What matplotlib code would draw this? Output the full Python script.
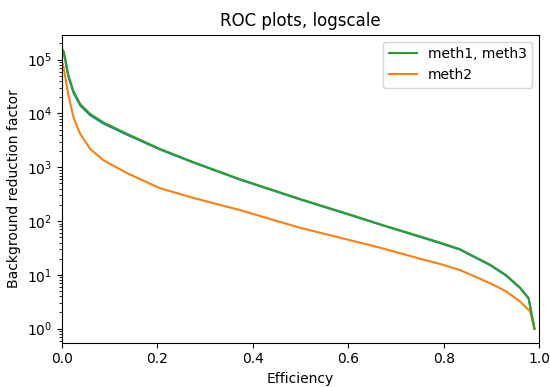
import matplotlib
matplotlib.use("Agg")
import matplotlib.pyplot as plt

# meth1 / meth3 (nearly identical curves)
eff_13 = [0.0, 0.004, 0.013, 0.024, 0.038, 0.059, 0.087, 0.136, 0.205, 0.275,
          0.373, 0.499, 0.6, 0.667, 0.75, 0.792, 0.834, 0.897, 0.93, 0.96,
          0.978, 0.99]
rej_meth3 = [1.6e5, 1.4e5, 5.3e4, 2.6e4, 1.5e4, 9.8e3, 6.8e3, 4.2e3, 2.2e3, 1250,
             600, 257, 135, 87, 52, 40, 30, 15.5, 10, 5.8,
             3.7, 1.0]
rej_meth1 = [1.55e5, 1.35e5, 5.0e4, 2.45e4, 1.42e4, 9.3e3, 6.5e3, 4.05e3, 2.15e3, 1230,
             590, 253, 133, 86, 51, 39, 29.5, 15.2, 9.8, 5.7,
             3.6, 1.0]

# meth2
eff_2 = [0.0, 0.003, 0.013, 0.024, 0.038, 0.059, 0.087, 0.136, 0.205, 0.275,
         0.373, 0.499, 0.6, 0.667, 0.75, 0.792, 0.834, 0.897, 0.93, 0.96,
         0.981, 0.99]
rej_meth2 = [9e4, 7.5e4, 2.3e4, 8.5e3, 4.2e3, 2.2e3, 1.35e3, 780, 410, 270,
             160, 75, 45, 32, 20, 16, 12.3, 7.0, 5.0, 3.2,
             2.1, 1.0]

fig = plt.figure(figsize=(5.5, 3.87), dpi=100)
ax = fig.add_axes([0.1127, 0.1145, 0.8676, 0.7958])

ax.plot(eff_13, rej_meth1, color="tab:blue")
l2, = ax.plot(eff_2, rej_meth2, color="tab:orange", label="meth2")
l3, = ax.plot(eff_13, rej_meth3, color="tab:green", label="meth1, meth3")

ax.set_yscale("log")
ax.set_xlim(0, 1)
ax.set_title("ROC plots, logscale")
ax.set_xlabel("Efficiency")
ax.set_ylabel("Background reduction factor")
ax.legend(handles=[l3, l2], loc="upper right")

fig.savefig("out.png", dpi=100)
